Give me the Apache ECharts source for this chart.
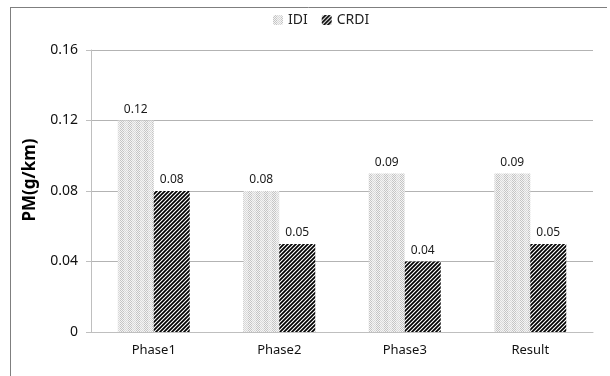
<!DOCTYPE html>
<html>
<head>
<meta charset="utf-8">
<script src="https://cdn.jsdelivr.net/npm/echarts@6/dist/echarts.min.js"></script>
<style>
  html, body { margin: 0; padding: 0; background: #fff; }
  #chart { width: 610px; height: 376px; }
</style>
</head>
<body>
<div id="chart"></div>
<script>
// Particulate emissions per phase for the two injection systems
const categories = ['Phase1', 'Phase2', 'Phase3', 'Result'];
const idiValues = [0.12, 0.08, 0.09, 0.09];
const crdiValues = [0.08, 0.05, 0.04, 0.05];
const yTicks = [0, 0.04, 0.08, 0.12, 0.16];

// Fine dotted fill (light grey stipple)
function dotPattern() {
  const c = document.createElement('canvas');
  c.width = 8; c.height = 2;
  const g = c.getContext('2d');
  g.fillStyle = '#f4f4f4';
  g.fillRect(0, 0, 8, 2);
  for (let x = 0; x < 8; x++) {
    for (let y = 0; y < 2; y++) {
      if ((x + y) % 2 === 0) {
        g.fillStyle = (x < 4) ? '#c4c4c4' : '#d8d8d8';
        g.fillRect(x, y, 1, 1);
      }
    }
  }
  return c;
}

// Dense black diagonal hatch
function hatchPattern() {
  const s = 4;
  const c = document.createElement('canvas');
  c.width = s; c.height = s;
  const g = c.getContext('2d');
  g.fillStyle = '#ffffff';
  g.fillRect(0, 0, s, s);
  g.strokeStyle = '#000000';
  g.lineWidth = 1.7;
  g.beginPath();
  g.moveTo(-1, s + 1); g.lineTo(s + 1, -1);
  g.moveTo(-1 - s, s + 1); g.lineTo(1, -1);
  g.moveTo(-1 + s, s + 1); g.lineTo(s + 1 + s, -1);
  g.stroke();
  return c;
}

const chart = echarts.init(document.getElementById('chart'), null, { renderer: 'canvas' });
const font = 'Noto Sans';

chart.setOption({
  animation: false,
  backgroundColor: '#ffffff',
  textStyle: { fontFamily: font },
  graphic: [
    { type: 'line', shape: { x1: 10.5, y1: 7, x2: 10.5, y2: 376 }, style: { stroke: '#7f7f7f', lineWidth: 1 } },
    { type: 'line', shape: { x1: 10, y1: 7.5, x2: 607, y2: 7.5 }, style: { stroke: '#7f7f7f', lineWidth: 1 } },
    {
      type: 'text', x: 30, y: 180, rotation: Math.PI / 2,
      style: { text: 'PM(g/km)', fontFamily: font, fontSize: 17, fontWeight: 'bold', fill: '#000', align: 'center', verticalAlign: 'middle' }
    }
  ],
  legend: {
    top: 8,
    left: 268,
    itemWidth: 10,
    itemHeight: 10,
    itemGap: 14,
    textStyle: { fontFamily: font, fontSize: 14, color: '#222' },
    data: ['IDI', 'CRDI']
  },
  grid: { left: 91, right: 17, top: 50, bottom: 44 },
  xAxis: {
    type: 'category',
    data: categories,
    axisLine: { lineStyle: { color: '#bfbfbf', width: 1 } },
    axisTick: { show: false },
    axisLabel: { fontFamily: font, fontSize: 13, color: '#111', margin: 12 }
  },
  yAxis: {
    type: 'value',
    min: yTicks[0],
    max: yTicks[yTicks.length - 1],
    interval: yTicks[1] - yTicks[0],
    axisLine: { show: true, lineStyle: { color: '#bfbfbf', width: 1 } },
    axisTick: { show: true, length: 5, lineStyle: { color: '#bfbfbf' } },
    splitLine: { lineStyle: { color: '#b3b3b3', width: 1 } },
    axisLabel: {
      fontFamily: font, fontSize: 14, color: '#111', margin: 13,
      formatter: v => (v === 0 ? '0' : v.toFixed(2))
    }
  },
  series: [
    {
      name: 'IDI',
      type: 'bar',
      data: idiValues,
      barWidth: 36,
      barGap: '0%',
      itemStyle: { color: { image: dotPattern(), repeat: 'repeat' } },
      label: { show: true, position: 'top', distance: 5, fontFamily: font, fontSize: 12, color: '#1a1a1a', formatter: p => p.value.toFixed(2) }
    },
    {
      name: 'CRDI',
      type: 'bar',
      data: crdiValues,
      barWidth: 36,
      barGap: '0%',
      itemStyle: { color: { image: hatchPattern(), repeat: 'repeat' } },
      label: { show: true, position: 'top', distance: 5, fontFamily: font, fontSize: 12, color: '#1a1a1a', formatter: p => p.value.toFixed(2) }
    }
  ]
});
</script>
</body>
</html>
